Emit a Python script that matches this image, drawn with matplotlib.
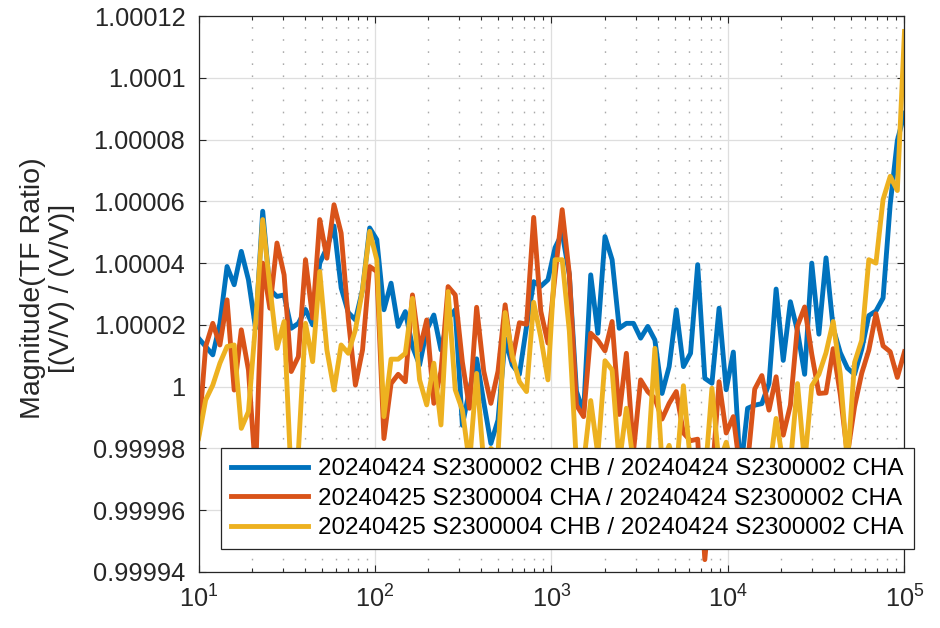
import numpy as np
import matplotlib
matplotlib.use("Agg")
import matplotlib.pyplot as plt
from matplotlib.ticker import LogLocator, NullFormatter

plt.rcParams['font.family'] = ['Liberation Sans', 'DejaVu Sans']
plt.rcParams['mathtext.fontset'] = 'custom'
plt.rcParams['mathtext.rm'] = 'Liberation Sans'
plt.rcParams['mathtext.it'] = 'Liberation Sans:italic'
plt.rcParams['mathtext.bf'] = 'Liberation Sans:bold'

# ---------------- data ----------------
# 100 log-spaced measurement frequencies, 10 Hz .. 100 kHz
freq_hz = np.logspace(1, 5, 100)

# deviation of the transfer-function ratio from 1, in parts per million
chb0424_over_cha0424_ppm = [
    15.7, 13.0, 10.3, 20.5, 38.9, 33.0, 43.8, 34.6, 18.9, 56.8,
    31.4, 29.2, 29.7, 18.9, 20.5, 25.0, 20.0, 40.0, 45.0, 52.0,
    32.0, 24.0, 21.6, 31.4, 51.4, 47.6, 24.9, 33.5, 19.5, 24.3,
    13.0, 7.0, 18.4, 23.2, 11.9, 22.0, 24.9, -12.5, -1.0, 9.0,
    -5.0, -18.4, -10.8, 15.5, 7.0, 4.0, 19.5, 34.0, 32.5, 34.6,
    45.0, 49.7, 36.3, -1.5, -8.4, 36.2, 17.3, 48.6, 41.1, 18.9,
    20.5, 20.5, 15.7, 19.5, 15.1, -2.2, 6.5, 24.9, 6.5, 10.8,
    39.5, 2.7, 1.1, 25.4, -1.0, 11.2, -28.0, -7.0, -6.0, -5.5,
    1.0, 31.6, 8.5, 27.5, 18.0, 4.0, 40.0, 17.0, 41.7, 19.0,
    11.0, 6.0, 4.0, 12.0, 23.0, 24.5, 28.7, 59.0, 79.7, 88.5,
]
cha0425_over_cha0424_ppm = [
    -16.2, 13.0, 20.5, 13.5, 28.1, -1.1, 18.4, 5.4, -28.0, 40.0,
    25.4, 46.5, 36.2, 4.9, 9.7, 41.1, 22.2, 54.1, 41.6, 58.9,
    49.7, 22.0, 0.5, 11.9, 38.9, 37.3, -16.8, 1.0, 4.0, 1.6,
    29.7, 11.9, 21.6, -5.4, 5.0, 32.4, 29.7, 8.0, -7.0, 25.7,
    5.0, -5.4, 5.0, 26.5, 8.5, 20.7, 20.2, 54.8, 24.4, 14.1,
    36.0, 57.3, 36.5, -6.0, -9.7, 17.3, 15.0, 11.6, 21.1, -9.0,
    10.8, -21.0, 2.2, -1.6, -3.8, -10.5, -5.4, -1.6, -15.0, -17.5,
    -17.0, -56.0, -30.0, 1.6, -15.0, -9.7, -28.0, -25.0, -0.8, 3.6,
    -7.6, 3.2, -15.7, -6.0, 19.7, 25.8, 10.5, -2.2, -2.0, 12.3,
    -2.5, -22.0, -6.5, 4.3, 11.8, 23.6, 13.2, 11.3, 3.0, 11.3,
]
chb0425_over_cha0424_ppm = [
    -16.8, -4.3, 0.5, 7.6, 13.0, 13.5, -13.5, -8.1, 20.5, 54.1,
    32.4, 12.4, 21.1, -30.0, -21.0, 20.5, 8.1, 37.3, 11.9, -1.1,
    13.5, 10.8, 18.4, 31.4, 50.3, 41.1, -9.7, 8.9, 8.9, 10.8,
    28.6, 2.2, -5.9, 7.6, -12.4, 30.8, -1.0, -7.6, -25.0, 4.3,
    -25.0, -20.0, -22.0, 24.0, 10.0, 1.6, -1.6, 27.3, 16.0, 2.2,
    41.1, 41.1, 18.0, -25.0, -25.0, -4.5, -22.0, 8.4, 5.4, -25.0,
    -7.0, -25.0, -30.0, -24.0, 12.4, -25.0, -19.0, -28.0, 0.3, -25.0,
    -22.0, -30.0, -0.5, -25.0, -18.0, -28.0, -28.0, -28.0, -30.0, -25.0,
    -28.0, -10.3, -25.0, -25.0, 1.0, -25.0, 0.3, 4.0, 11.0, 21.1,
    4.0, -25.0, 7.8, 15.0, 41.1, 40.0, 60.6, 68.1, 63.5, 115.0,
]

series_labels = [
    "20240424 S2300002 CHB / 20240424 S2300002 CHA",
    "20240425 S2300004 CHA / 20240424 S2300002 CHA",
    "20240425 S2300004 CHB / 20240424 S2300002 CHA",
]
ytick_values = [0.99994, 0.99996, 0.99998, 1.0, 1.00002, 1.00004,
                1.00006, 1.00008, 1.0001, 1.00012]
ytick_labels = ["0.99994", "0.99996", "0.99998", "1", "1.00002", "1.00004",
                "1.00006", "1.00008", "1.0001", "1.00012"]
ylabel_text = "Magnitude(TF Ratio)\n[(V/V) / (V/V)]"

# ---------------- style ----------------
colors = ['#0072BD', '#D95319', '#EDB120']
axis_color = '#262626'

fig = plt.figure(figsize=(9.4, 6.28), dpi=100)
ax = fig.add_axes([0.2112, 0.0892, 0.7510, 0.8853])

all_series = [chb0424_over_cha0424_ppm, cha0425_over_cha0424_ppm,
              chb0425_over_cha0424_ppm]
for dev, lab, col in zip(all_series, series_labels, colors):
    mag = 1.0 + np.asarray(dev) * 1e-6
    ax.plot(freq_hz, mag, color=col, lw=3.5, label=lab)

ax.set_xscale('log')
ax.set_xlim(10, 1e5)
ax.set_ylim(0.99994, 1.00012)
ax.set_yticks(ytick_values)
ax.set_yticklabels(ytick_labels)
ax.xaxis.set_major_locator(LogLocator(base=10, numticks=10))
ax.xaxis.set_minor_locator(LogLocator(base=10, subs=np.arange(2, 10), numticks=20))
ax.xaxis.set_minor_formatter(NullFormatter())

ax.set_axisbelow(True)
ax.grid(True, which='major', color='#dedede', lw=0.9, ls='-')
ax.grid(True, which='minor', axis='x', color='#aaaaaa', lw=1.0, ls=(0, (1.2, 7.5)))

for sp in ax.spines.values():
    sp.set_color(axis_color)
    sp.set_linewidth(0.9)

ax.tick_params(which='both', direction='in', top=True, right=True,
               colors=axis_color, labelsize=18.3)
ax.tick_params(which='major', length=5, width=0.8, pad=9.5)
ax.tick_params(which='minor', length=3, width=0.8)
ax.tick_params(axis='y', which='minor', left=False, right=False)

ax.set_ylabel(ylabel_text, fontsize=20.5, color=axis_color, linespacing=1.16)
ax.yaxis.set_label_coords(-0.175, 0.51)

leg = ax.legend(loc='upper left', bbox_to_anchor=(221 / 940, 1 - 448 / 628),
                bbox_transform=fig.transFigure, fontsize=17.4, frameon=True,
                fancybox=False, framealpha=1, edgecolor=axis_color,
                borderaxespad=0, handlelength=3.2, handletextpad=0.4,
                labelspacing=0.31, borderpad=0.42)
leg.get_frame().set_linewidth(0.9)
leg.set_zorder(10)

fig.savefig('out.png', dpi=100)
